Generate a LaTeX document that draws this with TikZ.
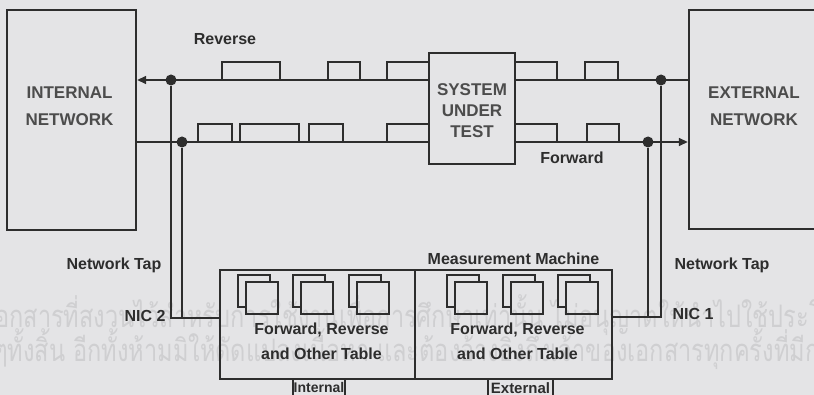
\documentclass[tikz,border=0pt]{standalone}
\usepackage{fontspec}
\setmainfont{Liberation Sans}
\newfontfamily\thaifont[Script=Thai, FakeStretch=0.76]{Loma}
\usetikzlibrary{arrows.meta,positioning}
\definecolor{paper}{RGB}{228,228,230}
\definecolor{ink}{RGB}{45,45,45}
\definecolor{wmark}{RGB}{207,207,209}

\begin{document}
\begin{tikzpicture}[x=1pt, y=-1pt,
        netbox/.style={rectangle, draw=ink, line width=2.4pt, inner sep=0pt},
        boxtxt/.style={text=ink!85, align=center, font=\fontsize{17}{27}\selectfont\bfseries},
        wire/.style={draw=ink, line width=1.6pt},
        tapdot/.style={circle, fill=ink, inner sep=0pt, minimum size=11pt},
        lbl/.style={text=ink, font=\fontsize{16}{25}\selectfont\bfseries},
        card/.style={draw=ink, line width=1.3pt},
        wmtxt/.style={anchor=base west, inner sep=0pt, text=wmark, font=\thaifont\fontsize{31}{33}\selectfont},
        tip/.style={-{Triangle[length=9pt,width=8pt]}}]

    \useasboundingbox (0,0) rectangle (814,395);
    \fill[paper] (0,0) rectangle (814,395);
    \clip (0,0) rectangle (814,395);

    % watermark
    \node[wmtxt] (wm1) at (-13,328)
        {เอกสารที่สงวนไว้สำหรับการใช้งานเพื่อการศึกษาเท่านั้น ไม่อนุญาตให้นำไปใช้ประโยชน์ในด้านอื่น};
    \node[wmtxt] (wm2) at (-5,361)
        {ๆทั้งสิ้น อีกทั้งห้ามมิให้ดัดแปลงเนื้อหา และต้องอ้างอิงถึงเจ้าของเอกสารทุกครั้งที่มีการนำไปใช้};

    % networks and the system under test
    \node[netbox, minimum width=129, minimum height=220] (intnet) at (71.5,120) {};
    \node[boxtxt, yshift=13.5pt, xshift=-2pt] at (intnet) {INTERNAL\\NETWORK};
    \node[netbox, minimum width=142, minimum height=219] (extnet) at (760,119.5) {};
    \node[boxtxt, yshift=13pt, xshift=-6pt] at (extnet) {EXTERNAL\\NETWORK};
    \node[netbox, minimum width=86, minimum height=111] (sut) at (472,108.5) {};
    \node[boxtxt, font=\fontsize{17}{21}\selectfont\bfseries, yshift=-2pt] at (sut) {SYSTEM\\UNDER\\TEST};

    % measurement machine
    \node[netbox, minimum width=195, minimum height=109] (intbox) at (317.5,324.5) {};
    \node[netbox, minimum width=197, minimum height=109] (extbox) at (513.5,324.5) {};
    \node[lbl, above=1pt of extbox] (mm) {Measurement Machine};
    \foreach \x in {238,293,349,447,503,558} {
        \draw[card] (\x+8,307) -- (\x,307) -- (\x,275) -- (\x+32,275) -- (\x+32,282);
        \draw[card] (\x+8,282) rectangle ++(32,32);
    }
    \node[lbl, align=center, xshift=4pt, yshift=-17pt] (inttab) at (intbox) {Forward, Reverse\\and Other Table};
    \node[lbl, align=center, xshift=4pt, yshift=-17pt] (exttab) at (extbox) {Forward, Reverse\\and Other Table};
    \node[lbl, font=\fontsize{14}{16}\selectfont\bfseries, anchor=north, inner sep=2pt] (intname) at (319,380) {Internal};
    \node[lbl, font=\fontsize{15}{16}\selectfont\bfseries, anchor=north, inner sep=2pt] (extname) at (520.5,380) {External};
    \draw[wire] (293,379) -- (293,400) (345,379) -- (345,400);
    \draw[wire] (488,379) -- (488,400) (553,379) -- (553,400);

    % taps
    \node[tapdot] (rdotL) at (171,80) {};
    \node[tapdot] (fdotL) at (182,142) {};
    \node[tapdot] (rdotR) at (661,80) {};
    \node[tapdot] (fdotR) at (648,142) {};
    \coordinate (nic2) at (171,318);
    \coordinate (nic1) at (661,317);

    % reverse and forward lines
    \draw[wire, tip] (sut.west |- rdotL) -- (intnet.east |- rdotL);
    \draw[wire] (extnet.west |- rdotR) -- (sut.east |- rdotR);
    \draw[wire] (intnet.east |- fdotL) -- (sut.west |- fdotL);
    \draw[wire, tip] (sut.east |- fdotR) -- (extnet.west |- fdotR);

    % packets
    \foreach \a/\b in {222/280, 328/360, 387/429, 515/557, 585/618}
        \draw[wire] (\a,80) rectangle (\b,62);
    \foreach \a/\b in {198/232, 240/299, 309/343, 387/429, 515/557, 587/619}
        \draw[wire] (\a,142) rectangle (\b,124);

    \draw[wire] (rdotL) -- (nic2) -- (intbox.west |- nic2);
    \draw[wire] (fdotL) -- (fdotL |- nic2);
    \draw[wire] (rdotR) -- (nic1) -- (extbox.east |- nic1);
    \draw[wire] (fdotR) -- (fdotR |- nic1);

    % labels
    \node[lbl] (rev) at (225,39) {Reverse};
    \node[lbl] (fwd) at (572,158) {Forward};
    \node[lbl] (tapL) at (114,265) {Network Tap};
    \node[lbl] (tapR) at (722,265) {Network Tap};
    \node[lbl, left=2pt of nic2, yshift=2pt] (nic2lbl) {NIC 2};
    \node[lbl, right=8pt of nic1, yshift=3pt] (nic1lbl) {NIC 1};
\end{tikzpicture}
\end{document}
